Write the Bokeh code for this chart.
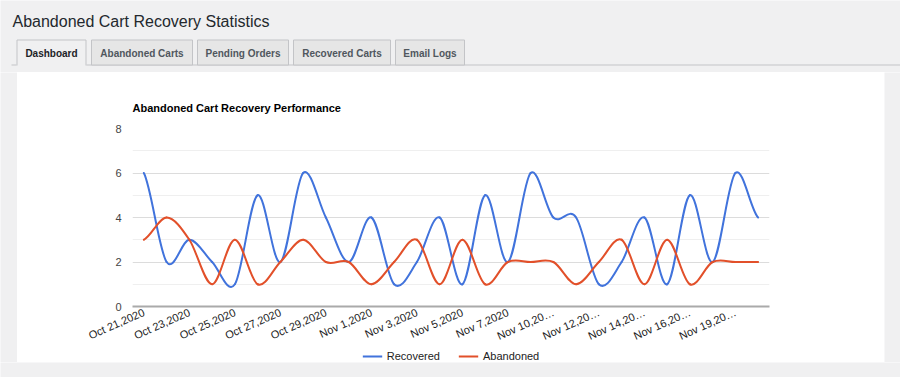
import math
from bokeh.plotting import figure
from bokeh.models import Range1d, FixedTicker, Legend, LegendItem, ColumnDataSource
from bokeh.layouts import column, row
from bokeh.core.properties import value
from bokeh.embed import file_html
from bokeh.resources import INLINE

# ---------------- data ----------------
dates = ["Oct 21,2020", "Oct 22,2020", "Oct 23,2020", "Oct 24,2020", "Oct 25,2020",
         "Oct 26,2020", "Oct 27,2020", "Oct 28,2020", "Oct 29,2020", "Oct 31,2020",
         "Nov 1,2020", "Nov 2,2020", "Nov 3,2020", "Nov 4,2020", "Nov 5,2020",
         "Nov 6,2020", "Nov 7,2020", "Nov 9,2020", "Nov 10,2020", "Nov 11,2020",
         "Nov 12,2020", "Nov 13,2020", "Nov 14,2020", "Nov 15,2020", "Nov 16,2020",
         "Nov 18,2020", "Nov 19,2020", "Nov 20,2020"]
recovered = [6, 2, 3, 2, 1, 5, 2, 6, 4, 2, 4, 1, 2, 4, 1, 5, 2, 6, 4, 4, 1, 2, 4, 1, 5, 2, 6, 4]
abandoned = [3, 4, 3, 1, 3, 1, 2, 3, 2, 2, 1, 2, 3, 1, 3, 1, 2, 2, 2, 1, 2, 3, 1, 3, 1, 2, 2, 2]
tick_labels = ["Oct 21,2020", "Oct 23,2020", "Oct 25,2020", "Oct 27,2020", "Oct 29,2020",
               "Nov 1,2020", "Nov 3,2020", "Nov 5,2020", "Nov 7,2020", "Nov 10,20\u2026",
               "Nov 12,20\u2026", "Nov 14,20\u2026", "Nov 16,20\u2026", "Nov 19,20\u2026"]
y_ticks = [0, 2, 4, 6, 8]
y_minor = [1, 3, 5, 7]
series_names = ["Recovered", "Abandoned"]
tabs = ["Dashboard", "Abandoned Carts", "Pending Orders", "Recovered Carts", "Email Logs"]
page_title = "Abandoned Cart Recovery Statistics"
chart_title = "Abandoned Cart Recovery Performance"

BG = "#f0f0f1"
BLUE = "#4173dc"
RED = "#e2502a"
FONT = "Liberation Sans"

# ---------------- top bar (page title + tabs) ----------------
top = figure(width=900, height=72, x_range=Range1d(0, 900), y_range=Range1d(72, 0),
             output_backend="svg", toolbar_location=None, min_border=0,
             x_axis_location=None, y_axis_location=None,
             background_fill_color=BG, border_fill_color=BG, outline_line_color=None)
top.grid.visible = False

top.text(x=[12], y=[21.3], text=[page_title], text_font=value(FONT),
         text_font_size="16px", text_color="#23282d", text_baseline="alphabetic")

tab_left = [16, 91, 197, 293, 395]
tab_right = [86, 192, 288, 390, 464]
top.segment(x0=[11], y0=[64.5], x1=[900], y1=[64.5], line_color="#c3c4c7", line_width=1)
# inactive tabs
top.quad(left=tab_left[1:], right=tab_right[1:], top=[39.5] * 4, bottom=[64.5] * 4,
         fill_color="#e6e6e6", line_color="#c3c4c7", line_width=1)
# active tab
top.quad(left=[tab_left[0]], right=[tab_right[0]], top=[39.5], bottom=[65.5],
         fill_color=BG, line_color=None)
top.multi_line(xs=[[tab_left[0] + 0.5, tab_left[0] + 0.5, tab_right[0] - 0.5, tab_right[0] - 0.5]],
               ys=[[65, 39.5, 39.5, 65]], line_color="#c3c4c7", line_width=1)
tab_cx = [(a + b) / 2 for a, b in zip(tab_left, tab_right)]
top.text(x=tab_cx[:1], y=[52.5], text=tabs[:1], text_font=value(FONT), text_font_size="10px",
         text_font_style="bold", text_color="#1d2327", text_align="center",
         text_baseline="alphabetic")
top.text(x=tab_cx[1:], y=[52.5] * 4, text=tabs[1:], text_font=value(FONT), text_font_size="10px",
         text_font_style="bold", text_color="#50575e", text_align="center",
         text_baseline="alphabetic")

# ---------------- chart ----------------
n = len(dates)
xs = list(range(n))

p = figure(width=867, height=278, x_range=Range1d(-0.5, n - 0.5), y_range=Range1d(0, 8),
           output_backend="svg", toolbar_location=None,
           min_border_left=115, min_border_right=115, min_border_top=56, min_border_bottom=44,
           background_fill_color="white", border_fill_color="white", outline_line_color=None)

p.title.text = chart_title
p.title.text_font = FONT
p.title.text_font_size = "11px"
p.title.text_font_style = "bold"
p.title.text_color = "#000000"
p.title.align = "left"
p.title.standoff = 30

# y axis
p.yaxis.ticker = FixedTicker(ticks=y_ticks, minor_ticks=y_minor)
p.yaxis.axis_line_color = None
p.yaxis.major_tick_line_color = None
p.yaxis.minor_tick_line_color = None
p.yaxis.major_tick_in = 0
p.yaxis.major_tick_out = 0
p.yaxis.minor_tick_in = 0
p.yaxis.minor_tick_out = 0
p.yaxis.major_label_standoff = 11
p.yaxis.major_label_text_font = FONT
p.yaxis.major_label_text_font_size = "11px"
p.yaxis.major_label_text_color = "#444444"

p.ygrid.ticker = FixedTicker(ticks=y_ticks, minor_ticks=y_minor)
p.ygrid.grid_line_color = "#dcdcdc"
p.ygrid.minor_grid_line_color = "#efefef"
p.xgrid.visible = False

# x axis
p.xaxis.ticker = FixedTicker(ticks=xs[::2])
p.xaxis.major_label_overrides = {i: lab for i, lab in zip(xs[::2], tick_labels)}
p.xaxis.major_label_orientation = math.radians(24)
p.xaxis.axis_line_color = "#aaaaaa"
p.xaxis.axis_line_width = 2
p.xaxis.major_tick_line_color = None
p.xaxis.minor_tick_line_color = None
p.xaxis.major_tick_in = 0
p.xaxis.major_tick_out = 0
p.xaxis.minor_tick_in = 0
p.xaxis.minor_tick_out = 0
p.xaxis.major_label_standoff = 5
p.xaxis.major_label_text_font = FONT
p.xaxis.major_label_text_font_size = "11px"
p.xaxis.major_label_text_color = "#222222"


def smooth_source(ys):
    """Cubic Bezier segments (Catmull-Rom style) through the data points."""
    m = len(ys)
    d = dict(x0=[], y0=[], x1=[], y1=[], cx0=[], cy0=[], cx1=[], cy1=[])
    for i in range(m - 1):
        yp = ys[i - 1] if i > 0 else ys[i]
        yn = ys[i + 2] if i + 2 < m else ys[i + 1]
        d["x0"].append(xs[i]); d["y0"].append(ys[i])
        d["x1"].append(xs[i + 1]); d["y1"].append(ys[i + 1])
        d["cx0"].append(xs[i] + (xs[i + 1] - xs[i]) / 3)
        d["cx1"].append(xs[i + 1] - (xs[i + 1] - xs[i]) / 3)
        d["cy0"].append(ys[i] + (ys[i + 1] - yp) / 6)
        d["cy1"].append(ys[i + 1] - (yn - ys[i]) / 6)
    return ColumnDataSource(d)


for ys, col in ((recovered, BLUE), (abandoned, RED)):
    p.bezier(x0="x0", y0="y0", x1="x1", y1="y1", cx0="cx0", cy0="cy0", cx1="cx1", cy1="cy1",
             source=smooth_source(ys), line_color=col, line_width=2, line_cap="round")

# ---------------- legend strip (white, below the chart) ----------------
lg = figure(width=867, height=12, x_range=Range1d(0, 1), y_range=Range1d(0, 1),
            output_backend="svg", toolbar_location=None, min_border=0,
            x_axis_location=None, y_axis_location=None,
            background_fill_color="white", border_fill_color="white", outline_line_color=None)
lg.grid.visible = False
nan = float("nan")
leg_r = [lg.line(x=[nan], y=[nan], line_color=c, line_width=2) for c in (BLUE, RED)]
legend = Legend(items=[LegendItem(label=nm, renderers=[r]) for nm, r in zip(series_names, leg_r)],
                orientation="horizontal", location="center",
                glyph_width=20, glyph_height=12, label_height=12, label_standoff=5, spacing=18,
                padding=0, margin=0, border_line_color=None, background_fill_alpha=0,
                label_text_font=FONT, label_text_font_size="11px", label_text_color="#222222")
lg.add_layout(legend, "center")


# ---------------- side / bottom gray strips ----------------
def strip(w, h):
    f = figure(width=w, height=h, x_range=Range1d(0, 1), y_range=Range1d(0, 1),
               output_backend="svg", toolbar_location=None, min_border=0,
               x_axis_location=None, y_axis_location=None,
               background_fill_color=BG, border_fill_color=BG, outline_line_color=None)
    f.grid.visible = False
    return f


layout = column(top, row(strip(17, 290), column(p, lg), strip(16, 290)), strip(900, 15))

open("out.html", "w").write(file_html(layout, INLINE))
